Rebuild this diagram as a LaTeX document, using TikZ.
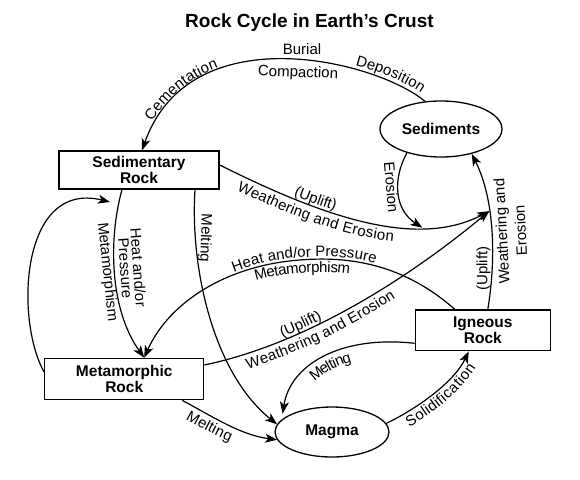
\documentclass[tikz,border=0pt]{standalone}
\usepackage{fontspec}
\setmainfont{Liberation Sans}
\usetikzlibrary{arrows.meta,shapes.geometric,decorations.text}

\newcommand\lblsize{\fontsize{15}{15}\selectfont}

\tikzset{
  rock/.style={draw, line width=1.3pt, rectangle, inner sep=0pt, align=center, font=\fontsize{15.5}{15.5}\selectfont\bfseries},
  blob/.style={draw, line width=1.3pt, ellipse, inner sep=0pt, font=\fontsize{15.5}{15.5}\selectfont\bfseries},
  flow/.style={line width=1.2pt, -{Stealth[length=12pt,width=9pt,inset=3.2pt]}},
  lbl/.style={inner sep=0pt, align=center, font=\lblsize},
  onpath/.style n args={3}{decorate, decoration={text along path, text={|\lblsize|#1}, text align={left indent=#2}, raise=#3}}
}

\begin{document}
\begin{tikzpicture}[x=1pt, y=-1pt]
\useasboundingbox (0,0) rectangle (580,479);

\node[font=\fontsize{19}{20}\selectfont\bfseries, anchor=base west, inner sep=0pt] (title) at (185,27.5) {Rock Cycle in Earth’s Crust};

\node[rock, minimum width=160pt, minimum height=38pt] (sedrock) at (139,170) {Sedimentary\\Rock};
\node[rock, minimum width=159pt, minimum height=41.4pt] (meta) at (124.2,379) {Metamorphic\\Rock};
\node[rock, minimum width=135pt, minimum height=40.7pt] (ign) at (482.8,330.3) {Igneous\\Rock};
\node[blob, minimum width=122pt, minimum height=56pt] (sed) at (441,129) {Sediments};
\node[blob, minimum width=114pt, minimum height=50pt] (magma) at (332,432) {Magma};
\coordinate (metaend) at (110,202);

% arrows
\draw[flow] (sed.120) .. controls (375,60) and (190,15) .. ([xshift=3pt]sedrock.north);
\draw[flow] ([xshift=5pt]ign.north) .. controls (496,260) and (495,200) .. (sed.-39) coordinate[pos=0.62] (wea);
\draw[flow] ([yshift=5pt]sedrock.east) .. controls (320,215) and (415,250) .. (wea) coordinate[pos=0.72] (ero);
\draw[flow] (sed.-145) .. controls (392,180) and (395,210) .. (ero);
\draw[flow] ([xshift=-17pt]sedrock.south) .. controls (108,240) and (110,310) .. ([xshift=20pt]meta.north);
\draw[flow] ([yshift=7pt]meta.west) .. controls (15,320) and (20,180) .. (metaend);
\draw[flow] ([xshift=56pt]sedrock.south) .. controls (190,265) and (212,372) .. (magma.172);
\draw[flow] ([xshift=-28pt]ign.north) .. controls (410,270) and (360,255) .. (300,260) .. controls (230,265) and (170,300) .. ([xshift=20pt]meta.north);
\draw[flow] ([yshift=14pt]meta.east) .. controls (300,345) and (400,285) .. (wea);
\draw[flow] ([yshift=-13pt]ign.west) .. controls (340,335) and (290,365) .. ([yshift=5pt]magma.165);
\draw[flow] (magma.9) .. controls (422,406) and (455,380) .. ([xshift=-14pt]ign.south);
\draw[flow] ([xshift=58pt]meta.south) .. controls (210,415) and (240,435) .. (magma.188);

% labels
\path[onpath={Cementation}{30pt}{3pt}] ([xshift=3pt]sedrock.north) .. controls (190,15) and (375,60) .. (sed.120);
\path[onpath={Deposition}{252pt}{4pt}] ([xshift=3pt]sedrock.north) .. controls (190,15) and (375,60) .. (sed.120);
\node[lbl] (buriallbl) at (302,49) {Burial};
\node[lbl, rotate=-2] (compactlbl) at (298,73.3) {Compaction};
\path[onpath={(Uplift)}{80pt}{3pt}] ([yshift=5pt]sedrock.east) .. controls (320,215) and (415,250) .. (wea);
\path[onpath={Weathering and Erosion}{26pt}{-15pt}] ([yshift=5pt]sedrock.east) .. controls (320,215) and (415,250) .. (wea);
\path[onpath={Heat and/or Pressure}{126pt}{2.5pt}] ([xshift=20pt]meta.north) .. controls (170,300) and (230,265) .. (300,260) .. controls (360,255) and (410,270) .. ([xshift=-28pt]ign.north);
\path[onpath={Metamorphism}{145pt}{-13pt}] ([xshift=20pt]meta.north) .. controls (170,300) and (230,265) .. (300,260) .. controls (360,255) and (410,270) .. ([xshift=-28pt]ign.north);
\path[onpath={(Uplift)}{83pt}{3pt}] ([yshift=14pt]meta.east) .. controls (300,345) and (400,285) .. (wea);
\path[onpath={Weathering and Erosion}{40pt}{-15pt}] ([yshift=14pt]meta.east) .. controls (300,345) and (400,285) .. (wea);
\path[onpath={Melting}{50pt}{-15pt}] ([yshift=5pt]magma.165) .. controls (290,365) and (340,335) .. ([yshift=-13pt]ign.west);
\path[onpath={Solidification}{18pt}{-14pt}] (magma.9) .. controls (422,406) and (455,380) .. ([xshift=-14pt]ign.south);
\path[onpath={Melting}{12pt}{-15pt}] ([xshift=58pt]meta.south) .. controls (210,415) and (240,435) .. (magma.188);

\node[lbl, rotate=-85] (erosionlbl) at (391.5,187.5) {Erosion};
\node[lbl, rotate=-86] (heatlbl) at (132,268) {Heat and/or\\[-2pt]Pressure};
\node[lbl, rotate=-84] (metalbl) at (107,272) {Metamorphism};
\node[lbl, rotate=-92] (meltlbl) at (205,238) {Melting};
\node[lbl, rotate=90] (upliftlbl) at (483.5,268.5) {(Uplift)};
\node[lbl, rotate=93] (weatherlbl) at (511,231) {Weathering and\\[4pt]Erosion};
\end{tikzpicture}
\end{document}
